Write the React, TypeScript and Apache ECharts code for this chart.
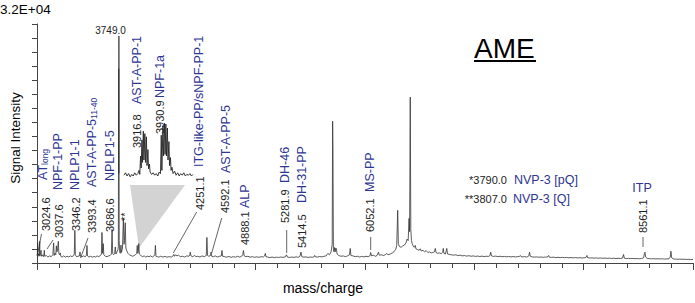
import React, { useEffect, useRef } from 'react';
import * as echarts from 'echarts';

// ---- data ----
const massMin = 3000;
const massMax = 9000;
const intensityMax = 32000;
const yTickCount = 17;

// [mass/charge, signal intensity]
const mainSpectrum: [number, number][] = [
  [3000, 950], [3003, 1300], [3006, 2700], [3009, 1000], [3014, 1250], [3018, 900], [3022, 1100],
  [3024.6, 2900], [3027, 950], [3032, 1400], [3037.6, 1700], [3041, 900], [3050, 1100], [3058, 850],
  [3064, 1200], [3067, 1700], [3070, 900], [3085, 1000], [3100, 800], [3115, 950], [3130, 850],
  [3145, 1100], [3152, 2700], [3157, 1000], [3165, 1300], [3172, 1100], [3177, 2300], [3182, 1500],
  [3188, 1700], [3195, 2900], [3200, 1300], [3206, 1100], [3213, 1350], [3218, 900], [3230, 800],
  [3245, 950], [3260, 780], [3275, 900], [3290, 800], [3305, 950], [3320, 850], [3335, 1000],
  [3341, 1200], [3346.2, 4360], [3351, 1100], [3360, 850], [3375, 900], [3388, 950], [3393.4, 1480],
  [3398, 900], [3410, 820], [3425, 950], [3440, 850], [3452, 1000], [3457, 2350], [3462, 950],
  [3475, 800], [3490, 900], [3505, 780], [3520, 880], [3535, 800], [3550, 950], [3565, 850],
  [3580, 1000], [3589, 1200], [3594, 4090], [3600, 1300], [3606, 2600], [3611, 1100], [3625, 900],
  [3640, 850], [3655, 950], [3668, 1000], [3680, 1200], [3686.6, 4500], [3692, 1300], [3700, 1100],
  [3710, 1300], [3716, 2150], [3722, 1200], [3732, 1500], [3740, 1800], [3744, 2200], [3747, 26000],
  [3748, 12000], [3749, 30400], [3752, 3000], [3756, 1500], [3762, 1300], [3768, 2400], [3773, 1400],
  [3782, 2000], [3790, 5970], [3796, 2500], [3800, 3000], [3807, 5400], [3813, 2000], [3822, 1600],
  [3832, 1300], [3845, 1100], [3860, 1000], [3875, 900], [3888, 1000], [3900, 1100], [3912, 1300],
  [3916.8, 2350], [3922, 1300], [3926, 1500], [3930.9, 2600], [3936, 1200], [3950, 1000], [3965, 850],
  [3980, 950], [3995, 800], [4010, 900], [4025, 850], [4040, 950], [4055, 800], [4070, 950],
  [4078, 1100], [4083, 2350], [4088, 900], [4100, 850], [4115, 780], [4130, 900], [4150, 800],
  [4170, 880], [4190, 780], [4210, 850], [4230, 800], [4245, 950], [4251.1, 1150], [4258, 900],
  [4268, 1100], [4280, 950], [4295, 1050], [4310, 850], [4330, 900], [4350, 800], [4370, 950],
  [4390, 900], [4397, 1100], [4402, 1450], [4408, 950], [4425, 850], [4440, 1000], [4455, 850],
  [4470, 900], [4490, 800], [4510, 950], [4530, 850], [4548, 1000], [4554, 3420], [4560, 1000],
  [4572, 900], [4586, 1000], [4592.1, 1450], [4598, 900], [4615, 850], [4630, 950], [4650, 800],
  [4670, 900], [4686, 950], [4692, 1680], [4698, 900], [4715, 850], [4735, 780], [4755, 880],
  [4775, 750], [4795, 850], [4815, 780], [4835, 900], [4855, 780], [4875, 950], [4882, 1100],
  [4888.1, 1680], [4895, 950], [4910, 850], [4930, 900], [4950, 780], [4970, 850], [4990, 760],
  [5010, 830], [5030, 750], [5050, 850], [5070, 800], [5082, 950], [5088, 1280], [5094, 850],
  [5110, 800], [5130, 720], [5150, 800], [5170, 720], [5190, 780], [5210, 740], [5230, 800],
  [5250, 750], [5270, 820], [5281.9, 1100], [5290, 800], [5310, 740], [5330, 800], [5350, 750],
  [5370, 820], [5390, 760], [5405, 900], [5414.5, 1450], [5422, 850], [5440, 780], [5460, 820],
  [5480, 740], [5500, 800], [5520, 760], [5535, 850], [5540, 1010], [5546, 820], [5565, 800],
  [5585, 870], [5605, 820], [5625, 900], [5645, 950], [5660, 1280], [5675, 1100], [5690, 1500],
  [5700, 2500], [5704, 18990], [5707, 15000], [5711, 2000], [5716, 1500], [5722, 2080], [5727, 1500],
  [5733, 2000], [5738, 1900], [5745, 1200], [5760, 1000], [5780, 900], [5800, 950], [5820, 850],
  [5840, 950], [5858, 1100], [5865, 1950], [5871, 1000], [5890, 950], [5910, 850], [5930, 900],
  [5950, 800], [5970, 880], [5990, 820], [6010, 900], [6030, 850], [6045, 950], [6052.1, 1410],
  [6060, 950], [6075, 1050], [6095, 900], [6110, 1000], [6123, 1450], [6130, 1050], [6150, 1100],
  [6170, 1000], [6190, 1150], [6200, 1280], [6210, 1100], [6230, 1200], [6250, 1350], [6265, 1500],
  [6280, 1800], [6290, 2300], [6299, 7050], [6305, 2600], [6315, 2200], [6330, 2100], [6345, 2300],
  [6360, 2400], [6375, 2700], [6385, 3200], [6395, 3000], [6403, 5970], [6408, 4200], [6414, 22210],
  [6419, 4500], [6425, 3000], [6432, 2600], [6440, 2300], [6450, 2100], [6460, 2350], [6466, 1900],
  [6480, 1800], [6495, 1700], [6505, 1900], [6515, 1600], [6530, 1700], [6545, 1500], [6560, 1650],
  [6575, 1400], [6590, 1500], [6605, 1350], [6620, 1400], [6636, 1500], [6643, 1950], [6650, 1400],
  [6665, 1300], [6680, 1350], [6700, 1250], [6710, 1400], [6716, 1950], [6722, 1300], [6735, 1200],
  [6748, 1950], [6755, 1200], [6770, 1150], [6790, 1100], [6810, 1050], [6830, 1100], [6850, 1000],
  [6870, 1050], [6890, 950], [6910, 1000], [6930, 920], [6950, 980], [6970, 900], [6990, 950],
  [7010, 880], [7030, 930], [7050, 870], [7070, 920], [7090, 860], [7110, 900], [7130, 880],
  [7143, 1000], [7150, 1450], [7157, 950], [7175, 880], [7195, 920], [7215, 860], [7235, 900],
  [7255, 840], [7275, 880], [7295, 830], [7315, 870], [7335, 820], [7355, 860], [7375, 810],
  [7395, 850], [7412, 880], [7421, 1010], [7428, 830], [7445, 820], [7460, 860], [7475, 800],
  [7490, 850], [7498, 950], [7505, 1450], [7512, 900], [7530, 820], [7550, 790], [7570, 820],
  [7590, 770], [7610, 800], [7630, 760], [7650, 790], [7670, 800], [7679, 1010], [7686, 780],
  [7705, 750], [7725, 780], [7745, 730], [7765, 760], [7785, 720], [7805, 750], [7825, 710],
  [7845, 740], [7865, 700], [7885, 730], [7905, 690], [7925, 720], [7945, 680], [7965, 710],
  [7985, 670], [8005, 700], [8020, 720], [8030, 1010], [8037, 700], [8055, 670], [8075, 690],
  [8095, 650], [8115, 680], [8135, 640], [8155, 670], [8175, 630], [8195, 660], [8215, 620],
  [8235, 650], [8255, 610], [8275, 640], [8295, 600], [8315, 630], [8335, 600], [8355, 660],
  [8365, 1140], [8372, 640], [8390, 600], [8410, 620], [8430, 590], [8450, 610], [8470, 580],
  [8490, 600], [8510, 570], [8530, 600], [8548, 700], [8556, 1300], [8561.1, 1450], [8567, 800],
  [8580, 620], [8600, 580], [8620, 560], [8640, 580], [8660, 550], [8680, 570], [8700, 540],
  [8720, 560], [8740, 530], [8760, 550], [8780, 560], [8792, 800], [8798, 1580], [8805, 700],
  [8820, 540], [8840, 520], [8860, 500], [8880, 520], [8900, 490], [8920, 510], [8940, 480],
  [8960, 490], [8980, 470], [9000, 460],
];

// zoomed inset (relative intensity, %)
const insetMassMin = 3904;
const insetMassMax = 3949;
const insetSpectrum: [number, number][] = [
  [3904, 6], [3905, 9], [3906, 5], [3907, 8], [3908, 4], [3909, 7], [3910, 5], [3911, 9], [3912, 6],
  [3913, 8], [3913.8, 12], [3914.3, 7], [3914.8, 30], [3915.2, 15], [3915.7, 50], [3916.1, 22],
  [3916.6, 61], [3917.0, 25], [3917.6, 58], [3918.0, 22], [3918.6, 54], [3919.0, 18], [3919.6, 38],
  [3920.0, 14], [3920.6, 20], [3921, 10], [3922, 7], [3923, 9], [3924, 6], [3925, 8], [3926, 5],
  [3927, 10], [3927.8, 8], [3928.3, 56], [3928.7, 12], [3929.4, 68], [3929.8, 30], [3930.4, 71],
  [3930.8, 32], [3931.3, 70], [3931.7, 30], [3932.3, 65], [3932.7, 25], [3933.3, 48], [3933.7, 18],
  [3934.3, 28], [3934.7, 12], [3935.3, 16], [3936, 8], [3937, 11], [3938, 6], [3939, 9], [3940, 5],
  [3941, 8], [3942, 6], [3943, 9], [3944, 5], [3945, 7], [3946, 6], [3947, 8], [3948, 5], [3949, 7],
];

const peakMassTexts = [
  '3024.6', '3037.6', '3346.2', '3393.4', '3686.6', '3916.8', '3930.9', '4251.1',
  '4592.1', '4888.1', '5281.9', '5414.5', '6052.1', '8561.1',
];
const peptideTexts = [
  '{a|AT}{b|long}', 'NPF-1-PP', 'NPLP1-1', '{a|AST-A-PP-5}{b|11-40}', 'NPLP1-5', 'AST-A-PP-1',
  'NPF-1a', 'ITG-like-PP/sNPF-PP-1', 'AST-A-PP-5', 'ALP', 'DH-46', 'DH-31-PP', 'MS-PP',
];
const basePeakText = '3749.0';
const noteMasses = ['*3790.0', '**3807.0'];
const noteNames = ['NVP-3 [pQ]', 'NVP-3 [Q]'];

// ---- layout (pixels) ----
const numberPos: [number, number][] = [
  [46, 231], [59, 238], [75.5, 231], [92, 233], [110, 232], [137, 148], [160, 134], [200, 210],
  [225, 213], [245, 245], [285, 223], [302, 248], [370, 232], [643, 233],
];
const namePos: [number, number][] = [
  [43, 180], [58, 190], [75, 190], [92, 187], [110, 181], [137, 104], [159.5, 98], [199, 167],
  [226, 173], [245, 208], [285, 183], [302, 203], [370, 192],
];
const leaders: [number, number, number, number][] = [
  [41.5, 234, 38, 252], [53, 240, 47, 249], [88, 238, 80.5, 258], [196.7, 212, 173.3, 253],
  [221.7, 218, 211.7, 253], [286.7, 230, 286.7, 253], [370.7, 237, 370.7, 250], [643, 237, 643, 247],
];

const FONT = '"Liberation Sans", Arial, Helvetica, sans-serif';
const BLUE = '#2e3592';
const INK = '#222';

export default function App() {
  const ref = useRef<HTMLDivElement>(null);
  useEffect(() => {
    document.body.style.margin = '0';
    const chart = echarts.init(ref.current!, null, { renderer: 'svg' });

    const vText = (x: number, y: number, text: string, size: number, fill: string, rich?: any) => ({
      type: 'text',
      x,
      y,
      rotation: Math.PI / 2,
      z: 10,
      style: {
        text,
        fontSize: size,
        fill,
        fontFamily: FONT,
        align: 'left',
        verticalAlign: 'middle',
        ...(rich ? { rich } : {}),
      },
    });
    const subRich = {
      a: { fontSize: 12.5, fill: BLUE, fontFamily: FONT },
      b: { fontSize: 8.5, fill: BLUE, fontFamily: FONT, verticalAlign: 'bottom' },
    };

    const graphic: any[] = [
      {
        type: 'polygon',
        z: 0,
        shape: { points: [[130, 185], [185, 185], [139, 248]] },
        style: { fill: '#d3d3d3' },
      },
      ...peakMassTexts.map((t, i) => vText(numberPos[i][0], numberPos[i][1], t, 11, INK)),
      ...peptideTexts.map((t, i) =>
        vText(namePos[i][0], namePos[i][1], t, 12.5, BLUE, t.startsWith('{') ? subRich : undefined)
      ),
      vText(125, 221, '**', 11, INK),
      ...leaders.map((l) => ({
        type: 'line',
        z: 10,
        shape: { x1: l[0], y1: l[1], x2: l[2], y2: l[3] },
        style: { stroke: INK, lineWidth: 0.7 },
      })),
      {
        type: 'text', x: 110.5, y: 30, z: 10,
        style: { text: basePeakText, fontSize: 10, fill: INK, fontFamily: FONT, align: 'center', verticalAlign: 'middle' },
      },
      ...noteMasses.map((t, i) => ({
        type: 'text', x: 507, y: 180 + i * 19, z: 10,
        style: { text: t, fontSize: 11, fill: INK, fontFamily: FONT, align: 'right', verticalAlign: 'middle' },
      })),
      ...noteNames.map((t, i) => ({
        type: 'text', x: 514 - i, y: 180 + i * 19, z: 10,
        style: { text: t, fontSize: 12.5, fill: BLUE, fontFamily: FONT, align: 'left', verticalAlign: 'middle' },
      })),
      {
        type: 'text', x: 642, y: 188, z: 10,
        style: { text: 'ITP', fontSize: 12.5, fill: BLUE, fontFamily: FONT, align: 'center', verticalAlign: 'middle' },
      },
      {
        type: 'text', x: 0, y: 9, z: 10,
        style: { text: '3.2E+04', fontSize: 13.5, fill: '#000', fontFamily: FONT, align: 'left', verticalAlign: 'middle' },
      },
      {
        type: 'text', x: 15, y: 138, rotation: Math.PI / 2, z: 10,
        style: { text: 'Signal Intensity', fontSize: 13.5, fill: '#000', fontFamily: FONT, align: 'center', verticalAlign: 'middle' },
      },
      {
        type: 'text', x: 323, y: 288, z: 10,
        style: { text: 'mass/charge', fontSize: 14, fill: '#000', fontFamily: FONT, align: 'center', verticalAlign: 'middle' },
      },
      {
        type: 'text', x: 474, y: 48, z: 10,
        style: { text: 'AME', fontSize: 28, fill: '#000', fontFamily: FONT, align: 'left', verticalAlign: 'middle' },
      },
      { type: 'rect', z: 10, shape: { x: 474, y: 60, width: 62, height: 2 }, style: { fill: '#000' } },
    ];

    chart.setOption({
      animation: false,
      grid: [
        { left: 37, top: 24, width: 656, height: 239 },
        { left: 124, top: 100, width: 69, height: 80 },
      ],
      xAxis: [
        {
          type: 'value',
          gridIndex: 0,
          min: massMin,
          max: massMax,
          interval: 1000,
          axisLine: { onZero: false, lineStyle: { color: '#444', width: 1 } },
          axisTick: { show: true, length: 7, lineStyle: { color: '#444' } },
          minorTick: { show: true, splitNumber: 5, length: 5, lineStyle: { color: '#444' } },
          axisLabel: { show: false },
          splitLine: { show: false },
          minorSplitLine: { show: false },
        },
        { type: 'value', gridIndex: 1, min: insetMassMin, max: insetMassMax, show: false },
      ],
      yAxis: [
        {
          type: 'value',
          gridIndex: 0,
          min: 0,
          max: intensityMax,
          interval: intensityMax / yTickCount,
          axisLine: { show: true, onZero: false, lineStyle: { color: '#444', width: 1 } },
          axisTick: { show: true, length: 5, lineStyle: { color: '#444' } },
          axisLabel: { show: false },
          splitLine: { show: false },
        },
        { type: 'value', gridIndex: 1, min: 0, max: 100, show: false },
      ],
      series: [
        {
          type: 'line',
          xAxisIndex: 0,
          yAxisIndex: 0,
          data: mainSpectrum,
          showSymbol: false,
          symbol: 'none',
          silent: true,
          lineStyle: { width: 0.8, color: '#333' },
        },
        {
          type: 'line',
          xAxisIndex: 1,
          yAxisIndex: 1,
          data: insetSpectrum,
          showSymbol: false,
          symbol: 'none',
          silent: true,
          lineStyle: { width: 0.9, color: '#222' },
        },
      ],
      graphic,
    });
    return () => chart.dispose();
  }, []);
  return <div ref={ref} style={{ position: 'absolute', left: 0, top: 0, width: 695, height: 303 }} />;
}
